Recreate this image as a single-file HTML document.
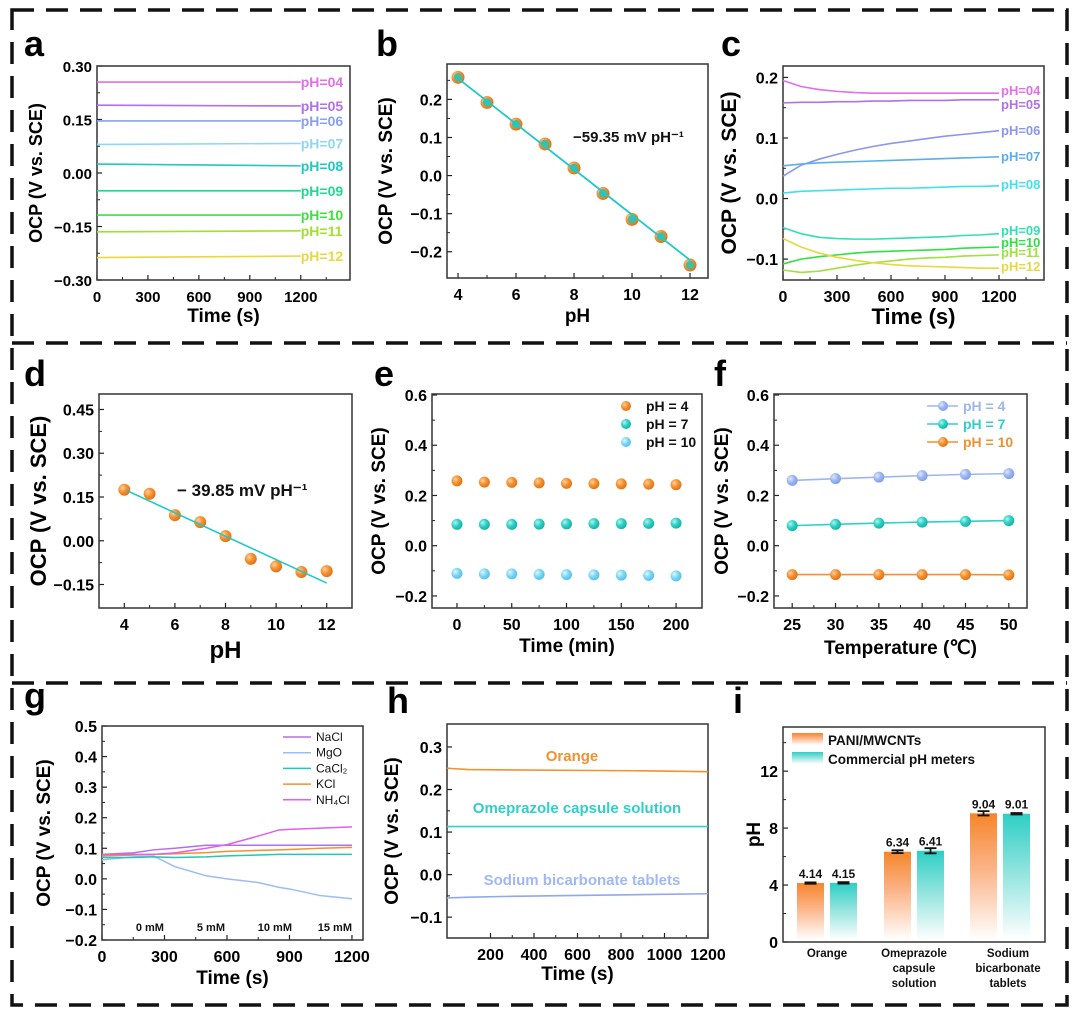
<!DOCTYPE html>
<html><head><meta charset="utf-8">
<style>
html,body{margin:0;padding:0;background:#fff;}
svg{display:block;font-family:"Liberation Sans",Arial,sans-serif;}
</style></head>
<body>
<svg id="fig" width="1080" height="1022" viewBox="0 0 1080 1022">
<defs>
<radialGradient id="gOr" cx="0.35" cy="0.35" r="0.7"><stop offset="0" stop-color="#ffd0a0"/><stop offset="0.5" stop-color="#f5912f"/><stop offset="1" stop-color="#e07010"/></radialGradient>
<radialGradient id="gTe" cx="0.35" cy="0.35" r="0.7"><stop offset="0" stop-color="#b0f5ef"/><stop offset="0.5" stop-color="#2fd0c5"/><stop offset="1" stop-color="#12b0a5"/></radialGradient>
<radialGradient id="gLb" cx="0.35" cy="0.35" r="0.7"><stop offset="0" stop-color="#e0f7ff"/><stop offset="0.5" stop-color="#7fd6f5"/><stop offset="1" stop-color="#50c0ea"/></radialGradient>
<radialGradient id="gLv" cx="0.35" cy="0.35" r="0.7"><stop offset="0" stop-color="#e0e8ff"/><stop offset="0.5" stop-color="#9db6f2"/><stop offset="1" stop-color="#7f9de8"/></radialGradient>
<linearGradient id="barOr" x1="0" y1="0" x2="0" y2="1"><stop offset="0" stop-color="#f7852a"/><stop offset="0.45" stop-color="#fbb58a"/><stop offset="1" stop-color="#ffffff"/></linearGradient>
<linearGradient id="barTe" x1="0" y1="0" x2="0" y2="1"><stop offset="0" stop-color="#2ccfc6"/><stop offset="0.45" stop-color="#8fe3dd"/><stop offset="1" stop-color="#ffffff"/></linearGradient>
</defs>
<g id="frame" stroke="#111" stroke-width="3.5" stroke-dasharray="22,12" fill="none">
<rect x="12" y="10" width="1055" height="995"/>
<line x1="12" y1="343" x2="1067" y2="343"/>
<line x1="12" y1="683" x2="1067" y2="683"/>
</g>
<g font-weight="bold" font-size="36" fill="#000">
<text x="24" y="56">a</text>
<text x="376" y="56">b</text>
<text x="721" y="56">c</text>
<text x="24" y="386">d</text>
<text x="374" y="386">e</text>
<text x="714" y="386">f</text>
<text x="24" y="708">g</text>
<text x="387" y="713">h</text>
<text x="733" y="713">i</text>
</g>
</svg>
<script>
// ---------- data ----------
// panel a
const aLabels=["pH=04","pH=05","pH=06","pH=07","pH=08","pH=09","pH=10","pH=11","pH=12"];
const aStart=[0.255,0.19,0.146,0.080,0.025,-0.050,-0.118,-0.165,-0.237];
const aEnd=[0.255,0.188,0.146,0.083,0.020,-0.050,-0.118,-0.162,-0.233];
const aTimes=[0,1200];
// panel b
const bPH=[4,5,6,7,8,9,10,11,12];
const bOCP=[0.258,0.192,0.135,0.083,0.020,-0.047,-0.115,-0.160,-0.235];
const bFitPH=[4,12];
const bFitOCP=[0.255,-0.222];
// panel c
const cTimes=[0,100,200,300,400,500,600,700,800,900,1000,1100,1200];
const cLabels=["pH=04","pH=05","pH=06","pH=07","pH=08","pH=09","pH=10","pH=11","pH=12"];
const c04=[0.195,0.185,0.180,0.177,0.175,0.174,0.174,0.174,0.174,0.174,0.174,0.174,0.174];
const c05=[0.158,0.159,0.159,0.160,0.160,0.161,0.161,0.162,0.162,0.162,0.163,0.163,0.163];
const c06=[0.037,0.055,0.065,0.073,0.080,0.086,0.091,0.095,0.099,0.103,0.106,0.109,0.112];
const c07=[0.054,0.057,0.059,0.060,0.061,0.062,0.063,0.064,0.065,0.066,0.067,0.068,0.069];
const c08=[0.009,0.012,0.013,0.014,0.015,0.016,0.017,0.017,0.018,0.019,0.020,0.020,0.021];
const c09=[-0.048,-0.058,-0.064,-0.066,-0.067,-0.067,-0.066,-0.065,-0.064,-0.063,-0.061,-0.060,-0.058];
const c10=[-0.108,-0.100,-0.096,-0.093,-0.090,-0.088,-0.087,-0.086,-0.085,-0.084,-0.082,-0.081,-0.080];
const c11=[-0.118,-0.122,-0.120,-0.115,-0.110,-0.106,-0.103,-0.100,-0.098,-0.097,-0.095,-0.094,-0.093];
const c12=[-0.066,-0.080,-0.090,-0.097,-0.102,-0.106,-0.109,-0.111,-0.112,-0.113,-0.114,-0.115,-0.115];
// panel d
const dPH=[4,5,6,7,8,9,10,11,12];
const dOCP=[0.175,0.161,0.088,0.064,0.016,-0.062,-0.088,-0.107,-0.104];
const dFitPH=[4.1,12];
const dFitOCP=[0.172,-0.145];
// panel e
const eTimes=[0,25,50,75,100,125,150,175,200];
const ePH4=[0.258,0.253,0.252,0.250,0.248,0.247,0.246,0.245,0.243];
const ePH7=[0.085,0.085,0.085,0.086,0.087,0.088,0.088,0.089,0.090];
const ePH10=[-0.110,-0.112,-0.112,-0.114,-0.115,-0.116,-0.117,-0.118,-0.120];
// panel f
const fTemps=[25,30,35,40,45,50];
const fPH4=[0.260,0.267,0.273,0.279,0.284,0.287];
const fPH7=[0.080,0.085,0.090,0.094,0.097,0.100];
const fPH10=[-0.115,-0.115,-0.115,-0.115,-0.115,-0.116];
// panel g
const gTimes=[0,150,250,350,500,600,750,850,900,1050,1200];
const gNaCl=[0.080,0.085,0.095,0.100,0.110,0.110,0.110,0.110,0.110,0.110,0.110];
const gMgO=[0.062,0.072,0.074,0.040,0.010,0.000,-0.012,-0.028,-0.033,-0.055,-0.065];
const gCaCl2=[0.070,0.070,0.072,0.070,0.072,0.075,0.078,0.080,0.080,0.080,0.080];
const gKCl=[0.075,0.078,0.080,0.082,0.086,0.090,0.093,0.095,0.096,0.100,0.103];
const gNH4Cl=[0.080,0.080,0.080,0.085,0.100,0.112,0.140,0.160,0.162,0.166,0.170];
const gConcLabels=["0 mM","5 mM","10 mM","15 mM"];
const gConcPos=[230,523,830,1118];
// panel h
const hTimes=[0,100,300,600,900,1200];
const hOrange=[0.250,0.247,0.246,0.245,0.244,0.242];
const hOmep=[0.113,0.113,0.113,0.113,0.113,0.113];
const hSodium=[-0.055,-0.053,-0.051,-0.049,-0.047,-0.045];
// panel i
const iCats=[["Orange"],["Omeprazole","capsule","solution"],["Sodium","bicarbonate","tablets"]];
const iPANI=[4.14,6.34,9.04];
const iComm=[4.15,6.41,9.01];
const iPANIerr=[0.05,0.1,0.15];
const iCommErr=[0.05,0.18,0.05];

// ---------- helpers ----------
const NS="http://www.w3.org/2000/svg";
const svg=document.getElementById("fig");
function mk(tag,attrs,parent){const e=document.createElementNS(NS,tag);for(const k in attrs)e.setAttribute(k,attrs[k]);(parent||svg).appendChild(e);return e;}
function axes(o){
  const sx=v=>o.x0+(v-o.xmin)/(o.xmax-o.xmin)*(o.x1-o.x0);
  const sy=v=>o.y1-(v-o.ymin)/(o.ymax-o.ymin)*(o.y1-o.y0);
  const g=mk("g",{});
  
  
  const fs=o.fs||16;
  (o.xt||[]).forEach((v,i)=>{
    const x=sx(v);
    mk("line",{x1:x,x2:x,y1:o.y1,y2:o.y1-5,stroke:"#222","stroke-width":1.2},g);
    if(o.xminor){const xm=sx(v+o.xminor);if(xm<o.x1-2)mk("line",{x1:xm,x2:xm,y1:o.y1,y2:o.y1-3,stroke:"#222","stroke-width":1},g);}
    if(o.xl!==false){const t=mk("text",{x:x,y:o.y1+22,"text-anchor":"middle","font-size":fs,"font-weight":"bold"},g);t.textContent=o.xlab?o.xlab[i]:v;}
  });
  (o.yt||[]).forEach((v,i)=>{
    const y=sy(v);
    mk("line",{x1:o.x0,x2:o.x0+5,y1:y,y2:y,stroke:"#222","stroke-width":1.2},g);
    if(o.yminor){const ym=sy(v+o.yminor);if(ym>o.y0+2)mk("line",{x1:o.x0,x2:o.x0+3,y1:ym,y2:ym,stroke:"#222","stroke-width":1},g);}
    const t=mk("text",{x:o.x0-5,y:y+6,"text-anchor":"end","font-size":fs,"font-weight":"bold"},g);t.textContent=o.ylab?o.ylab[i]:v;
  });
  mk("rect",{x:o.x0,y:o.y0,width:o.x1-o.x0,height:o.y1-o.y0,fill:"none",stroke:"#333","stroke-width":1.5},g);
  if(o.xtitle){const t=mk("text",{x:(o.x0+o.x1)/2,y:o.y1+(o.xtOff||46),"text-anchor":"middle","font-size":o.xtfs||19,"font-weight":"bold"},g);t.textContent=o.xtitle;}
  if(o.ytitle){const cx=o.ytx,cy=(o.y0+o.y1)/2;const t=mk("text",{x:cx,y:cy,"text-anchor":"middle","font-size":o.ytfs||19,"font-weight":"bold",transform:`rotate(-90 ${cx} ${cy})`},g);t.textContent=o.ytitle;}
  return {sx,sy};
}
function line(xs,ys,sx,sy,color,w,name){
  const p=mk("polyline",{points:xs.map((x,i)=>sx(x)+","+sy(ys[i])).join(" "),fill:"none",stroke:color,"stroke-width":w||1.6});
  
  
  return p;
}
function dot(x,y,fill,r,name){
  const c=mk("circle",{cx:x,cy:y,r:r||6,fill:fill});
  
  
  return c;
}
function label(x,y,txt,color,fs,name,anchor){
  const t=mk("text",{x:x,y:y,fill:color,"font-size":fs||14,"font-weight":"bold","text-anchor":anchor||"start"});
  t.textContent=txt;
  
  
  return t;
}
const OCP="OCP (V vs. SCE)";

// ---------- panel a ----------
(function(){
  const A=axes({name:"a",x0:97,x1:350,y0:66,y1:280,xmin:0,xmax:1490,ymin:-0.3,ymax:0.3,
    xt:[0,300,600,900,1200],xminor:150,yt:[-0.3,-0.15,0,0.15,0.3],yminor:0.075,
    ylab:["−0.30","−0.15","0.00","0.15","0.30"],fs:15,xtitle:"Time (s)",ytitle:OCP,ytx:42,xtOff:42,ytfs:18});
  const cols=["#e070e8","#b070e8","#8aa0f0","#8fd6f7","#20c8c0","#20d890","#40e040","#a0e030","#e8d840"];
  aLabels.forEach((l,i)=>{
    line(aTimes,[aStart[i],aEnd[i]],A.sx,A.sy,cols[i],1.6,'a-line-'+l);
    label(A.sx(1200),A.sy(aEnd[i])+5,l,cols[i],14,'a-label-'+l);
  });
})();
// ---------- panel b ----------
(function(){
  const B=axes({name:"b",x0:447,x1:708,y0:64,y1:278,xmin:3.62,xmax:12.62,ymin:-0.269,ymax:0.293,
    xt:[4,6,8,10,12],xminor:1,yt:[-0.2,-0.1,0,0.1,0.2],yminor:0.05,
    ylab:["−0.2","−0.1","0.0","0.1","0.2"],xtitle:"pH",ytitle:OCP,ytx:392,xtOff:44});
  bPH.forEach((p,i)=>{dot(B.sx(p),B.sy(bOCP[i]),"url(#gOr)",6.5,'b-point-ph'+p);dot(B.sx(p),B.sy(bOCP[i]),"#3bbfa8",4.2,'b-point-core-ph'+p);});
  line(bFitPH,bFitOCP,B.sx,B.sy,"#20c8c8",1.8,'b-fit-line');
  label(573,142,"−59.35 mV pH⁻¹","#111",15,'b-slope-annotation');
})();
// ---------- panel c ----------
(function(){
  const C=axes({name:"c",x0:783,x1:1044,y0:66,y1:280,xmin:0,xmax:1450,ymin:-0.1345,ymax:0.2189,
    xt:[0,300,600,900,1200],xminor:150,yt:[-0.1,0,0.1,0.2],yminor:0.05,
    ylab:["−0.1","0.0","0.1","0.2"],xtitle:"Time (s)",ytitle:OCP,ytx:736,xtOff:44,xtfs:22,ytfs:21});
  const series=[c04,c05,c06,c07,c08,c09,c10,c11,c12];
  const cols=["#e070e8","#b070e8","#8a96f0","#5aaeea","#40e0f0","#30e0b0","#30e040","#a0e040","#e8d840"];
  const ly=[90,104,130,156,184,230,242,252,266];
  series.forEach((s,i)=>{line(cTimes,s,C.sx,C.sy,cols[i],1.6,'c-line-'+cLabels[i]);label(1001,ly[i]+5,cLabels[i],cols[i],13,'c-label-'+cLabels[i]);});
})();
// ---------- panel d ----------
(function(){
  const D=axes({name:"d",x0:99,x1:352,y0:394,y1:608,xmin:3,xmax:13,ymin:-0.2305,ymax:0.5031,
    xt:[4,6,8,10,12],xminor:1,yt:[-0.15,0,0.15,0.3,0.45],yminor:0.075,
    ylab:["−0.15","0.00","0.15","0.30","0.45"],xtitle:"pH",ytitle:OCP,ytx:46,xtOff:50,xtfs:24,ytfs:22});
  dPH.forEach((p,i)=>dot(D.sx(p),D.sy(dOCP[i]),"url(#gOr)",6,'d-point-ph'+p));
  line(dFitPH,dFitOCP,D.sx,D.sy,"#20c8c8",1.6,'d-fit-line');
  label(177,496,"− 39.85 mV pH⁻¹","#111",17,'d-slope-annotation');
})();
// ---------- panel e ----------
(function(){
  const E=axes({name:"e",x0:432,x1:702,y0:394,y1:608,xmin:-22.8,xmax:223.7,ymin:-0.248,ymax:0.604,
    xt:[0,50,100,150,200],xminor:25,yt:[-0.2,0,0.2,0.4,0.6],yminor:0.1,
    ylab:["−0.2","0.0","0.2","0.4","0.6"],xtitle:"Time (min)",ytitle:OCP,ytx:385,xtOff:44});
  eTimes.forEach((t,i)=>{
    dot(E.sx(t),E.sy(ePH4[i]),"url(#gOr)",5.5,'e-point-ph4-t'+t);
    dot(E.sx(t),E.sy(ePH7[i]),"url(#gTe)",5.5,'e-point-ph7-t'+t);
    dot(E.sx(t),E.sy(ePH10[i]),"url(#gLb)",5.5,'e-point-ph10-t'+t);
  });
  const leg=[["pH = 4","url(#gOr)"],["pH = 7","url(#gTe)"],["pH = 10","url(#gLb)"]];
  leg.forEach((l,i)=>{dot(626,406+i*18,l[1],5,'e-legend-marker-'+i);label(646,411+i*18,l[0],"#111",14,'e-legend-text-'+i);});
})();
// ---------- panel f ----------
(function(){
  const F=axes({name:"f",x0:774,x1:1027,y0:394,y1:608,xmin:22.9,xmax:52.1,ymin:-0.248,ymax:0.604,
    xt:[25,30,35,40,45,50],xminor:2.5,yt:[-0.2,0,0.2,0.4,0.6],yminor:0.1,
    ylab:["−0.2","0.0","0.2","0.4","0.6"],xtitle:"Temperature (℃)",ytitle:OCP,ytx:728,xtOff:46});
  const ser=[[fPH4,"#9db6f2","url(#gLv)","ph4"],[fPH7,"#2fd0c5","url(#gTe)","ph7"],[fPH10,"#f39030","url(#gOr)","ph10"]];
  ser.forEach(s=>{line(fTemps,s[0],F.sx,F.sy,s[1],1.6,'f-line-'+s[3]);fTemps.forEach((t,i)=>dot(F.sx(t),F.sy(s[0][i]),s[2],5.5,'f-point-'+s[3]+'-'+t));});
  const leg=[["pH = 4","#9db6f2","url(#gLv)"],["pH = 7","#2fd0c5","url(#gTe)"],["pH = 10","#f39030","url(#gOr)"]];
  leg.forEach((l,i)=>{const y=406+i*18;mk("line",{x1:927,x2:958,y1:y,y2:y,stroke:l[1],"stroke-width":1.6});dot(943,y,l[2],5,'f-legend-marker-'+i);label(963,y+5,l[0],l[1],14,'f-legend-text-'+i);});
})();
// ---------- panel g ----------
(function(){
  const G=axes({name:"g",x0:102,x1:363,y0:726,y1:940,xmin:0,xmax:1253,ymin:-0.2,ymax:0.5,
    xt:[0,300,600,900,1200],xminor:150,yt:[-0.2,-0.1,0,0.1,0.2,0.3,0.4,0.5],yminor:0.05,
    ylab:["−0.2","−0.1","0.0","0.1","0.2","0.3","0.4","0.5"],xtitle:"Time (s)",ytitle:OCP,ytx:50,xtOff:44});
  const ser=[[gNaCl,"#b070e8","NaCl"],[gMgO,"#9dbcf5","MgO"],[gCaCl2,"#20c8b8","CaCl₂"],[gKCl,"#f39030","KCl"],[gNH4Cl,"#e060e8","NH₄Cl"]];
  ser.forEach((s,i)=>{
    line(gTimes,s[0],G.sx,G.sy,s[1],1.5,'g-line-'+i);
    const y=737+i*15.7;
    mk("line",{x1:283,x2:311,y1:y,y2:y,stroke:s[1],"stroke-width":1.5});
    label(316,y+4,s[2],"#111",12,'g-legend-text-'+i).setAttribute("font-weight","normal");
  });
  gConcLabels.forEach((l,i)=>label(G.sx(gConcPos[i]),931,l,"#111",11,'g-conc-label-'+i,"middle"));
})();
// ---------- panel h ----------
(function(){
  const H=axes({name:"h",x0:447,x1:708,y0:724,y1:938,xmin:0,xmax:1200,ymin:-0.149,ymax:0.354,
    xt:[200,400,600,800,1000,1200],xminor:100,yt:[-0.1,0,0.1,0.2,0.3],yminor:0.05,
    ylab:["−0.1","0.0","0.1","0.2","0.3"],xtitle:"Time (s)",ytitle:OCP,ytx:398,xtOff:42});
  line(hTimes,hOrange,H.sx,H.sy,"#f39030",1.6,'h-line-orange');
  line(hTimes,hOmep,H.sx,H.sy,"#2fd0c5",1.6,'h-line-omeprazole');
  line(hTimes,hSodium,H.sx,H.sy,"#8fa8f0",1.6,'h-line-sodium');
  label(572,761,"Orange","#f39030",15,'h-label-orange',"middle");
  label(577,813,"Omeprazole capsule solution","#2fd0c5",15,'h-label-omeprazole',"middle");
  label(582,885,"Sodium bicarbonate tablets","#a0b8f5",15,'h-label-sodium',"middle");
})();
// ---------- panel i ----------
(function(){
  const I=axes({name:"i",x0:783,x1:1045,y0:727,y1:942,xmin:0,xmax:15.1,ymin:0,ymax:15.1,
    xt:[],yt:[0,4,8,12],yminor:2,xtitle:"",ytitle:"pH",ytx:760});
  const centers=[827,914,1000];
  iPANI.forEach((v,i)=>{
    const xa=centers[i]-30,xb=centers[i]+3;
    const r1=mk("rect",{x:xa,y:I.sy(v),width:27,height:I.sy(0)-I.sy(v)-2,fill:"url(#barOr)"});
    
    
    const r2=mk("rect",{x:xb,y:I.sy(iComm[i]),width:27,height:I.sy(0)-I.sy(iComm[i])-2,fill:"url(#barTe)"});
    
    
    [[xa+13.5,v,iPANIerr[i]],[xb+13.5,iComm[i],iCommErr[i]]].forEach(e=>{
      const y1=I.sy(e[1]+e[2]),y2=I.sy(e[1]-e[2]);
      mk("path",{d:`M${e[0]-6},${y1}H${e[0]+6}M${e[0]},${y1}V${y2}M${e[0]-6},${y2}H${e[0]+6}`,stroke:"#111","stroke-width":1.8,fill:"none"});
    });
    label(xa+13.5,I.sy(v)-5,v.toFixed(2),"#111",12,'i-value-pani-'+i,"middle");
    label(xb+13.5,I.sy(iComm[i])-5,iComm[i].toFixed(2),"#111",12,'i-value-commercial-'+i,"middle");
    iCats[i].forEach((w,j)=>label(i==2?centers[i]+8:centers[i],957+j*15,w,"#111",11.5,'i-category-'+i+'-'+j,"middle"));
  });
  const lg1=mk("rect",{x:792,y:733,width:31,height:12,fill:"url(#barOr)"});
  
  
  const lg2=mk("rect",{x:792,y:752,width:31,height:12,fill:"url(#barTe)"});
  
  
  label(828,745,"PANI/MWCNTs","#111",13.5,'i-legend-text-pani');
  label(828,764,"Commercial pH meters","#111",13.5,'i-legend-text-commercial');
})();
</script>
</body></html>
